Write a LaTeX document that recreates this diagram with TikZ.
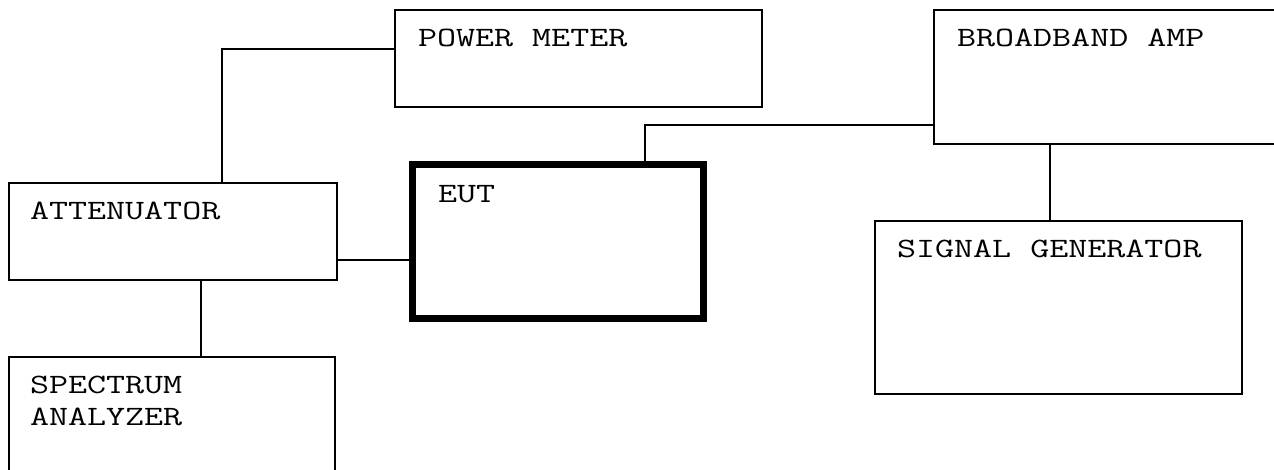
\documentclass[tikz,border=0pt]{standalone}
\usepackage{graphicx}
\newcommand{\boxtxt}[1]{\scalebox{1.32}[1]{#1}}
\begin{document}
\begin{tikzpicture}[x=1pt,y=-1pt,
  unit/.style={draw=black,line width=2.6pt,rectangle,inner sep=0pt,outer sep=0pt},
  eutbox/.style={draw=black,line width=7pt,rectangle,inner sep=0pt,outer sep=0pt},
  txt/.style={anchor=base west,inner sep=0pt,outer sep=0pt,font=\fontsize{28}{32}\selectfont\ttfamily},
  wire/.style={draw=black,line width=2.6pt}]
\useasboundingbox (0,0) rectangle (1274,470);
\clip (0,0) rectangle (1274,470);
\fill[white] (0,0) rectangle (1274,470);
% boxes
\node[unit,minimum width=367pt,minimum height=97pt] (pm) at (578.5,58.5) {};
\node[unit,minimum width=356pt,minimum height=134pt] (bb) at (1112,77) {};
\node[unit,minimum width=328pt,minimum height=97pt] (att) at (173,231.5) {};
\node[eutbox,minimum width=291pt,minimum height=153pt] (eut) at (557.5,241.5) {};
\node[unit,minimum width=367pt,minimum height=173pt] (sg) at (1058.5,307.5) {};
\node[unit,minimum width=326pt,minimum height=133pt] (sa) at (172,423.5) {};
% labels
\node[txt] (pmt) at (418,47) {\boxtxt{POWER METER}};
\node[txt] (bbt) at (957,47) {\boxtxt{BROADBAND AMP}};
\node[txt] (attt) at (30,220) {\boxtxt{ATTENUATOR}};
\node[txt] (eutt) at (438,203) {\boxtxt{EUT}};
\node[txt] (sgt) at (897,258) {\boxtxt{SIGNAL GENERATOR}};
\node[txt] (sat1) at (30,393) {\boxtxt{SPECTRUM}};
\node[txt] (sat2) at (30,425) {\boxtxt{ANALYZER}};
% connector anchors
\coordinate (c1) at (222,49);
\coordinate (c2) at (645,125);
% connectors
\draw[wire] (pm.west |- c1) -- (c1) -- (c1 |- att.north);
\draw[wire] (att.east |- 0,260) -- (eut.west |- 0,260);
\draw[wire] (201,0 |- att.south) -- (201,0 |- sa.north);
\draw[wire] (c2 |- eut.north) -- (c2) -- (bb.west |- c2);
\draw[wire] (1050,0 |- bb.south) -- (1050,0 |- sg.north);
\end{tikzpicture}
\end{document}
